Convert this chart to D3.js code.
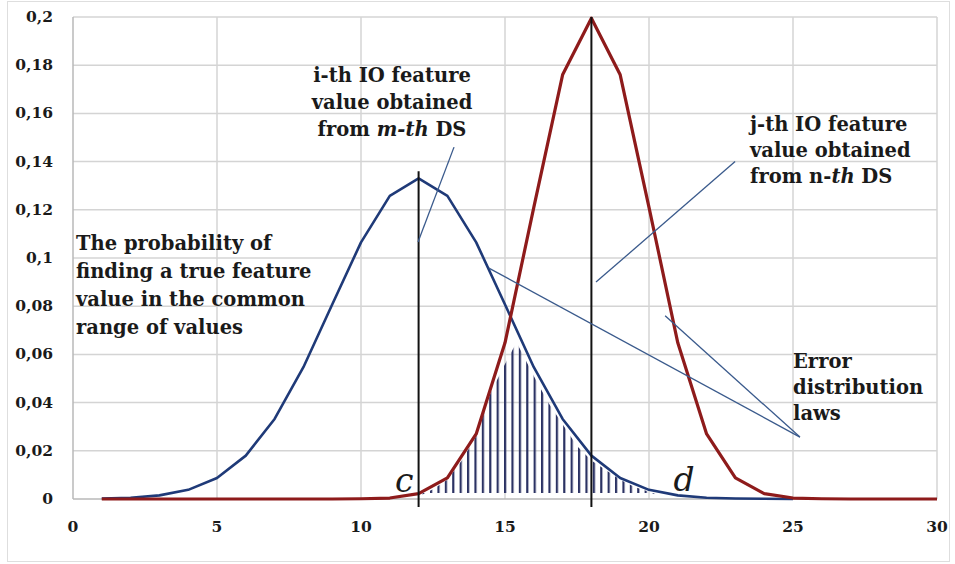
<!DOCTYPE html>
<html>
<head>
<meta charset="utf-8">
<script src="https://cdn.jsdelivr.net/npm/d3@7"></script>
<style>
  body { margin: 0; background: #fff; }
  svg text { font-family: "DejaVu Serif", "Liberation Serif", serif; fill: #1a1a1a; }
</style>
</head>
<body>
<svg width="955" height="564"></svg>
<script>
// values
const blueX = [1, 2, 3, 4, 5, 6, 7, 8, 9, 10, 11, 12, 13, 14, 15, 16, 17, 18, 19, 20, 21, 22, 23, 24, 25];
const blueY = [0.0002, 0.0005, 0.0015, 0.0038, 0.0087, 0.018, 0.0332, 0.0547, 0.0807, 0.1065, 0.1258, 0.133,
  0.1258, 0.1065, 0.0807, 0.0547, 0.0332, 0.018, 0.0087, 0.0038, 0.0015, 0.0005, 0.0002, 0.0001, 0];

const redX = [1, 2, 3, 4, 5, 6, 7, 8, 9, 10, 11, 12, 13, 14, 15, 16, 17, 18, 19, 20, 21, 22, 23, 24, 25, 26, 27, 28, 29, 30];
const redY = [0, 0, 0, 0, 0, 0, 0, 0, 0, 0.0001, 0.0004, 0.0022, 0.0088, 0.027, 0.0648, 0.121, 0.176, 0.1995,
  0.176, 0.121, 0.0648, 0.027, 0.0088, 0.0022, 0.0004, 0.0001, 0, 0, 0, 0];

// hatched common range (between c and d)
const overlapX = [12, 12.5, 13, 13.5, 14, 14.5, 15, 15.4, 16, 16.5, 17, 17.5, 18, 18.5, 19, 19.5, 20, 20.2];
const overlapY = [0.001, 0.004, 0.008, 0.016, 0.026, 0.044, 0.056, 0.065, 0.051, 0.040, 0.031, 0.022, 0.016, 0.012, 0.008, 0.005, 0.003, 0.002];

const xTicks = [0, 5, 10, 15, 20, 25, 30];
const yTicks = [0, 0.02, 0.04, 0.06, 0.08, 0.1, 0.12, 0.14, 0.16, 0.18, 0.2];
const yTickLabels = ["0", "0,02", "0,04", "0,06", "0,08", "0,1", "0,12", "0,14", "0,16", "0,18", "0,2"];

// vertical markers (feature values) and their heights
const markers = [{x: 12, top: 0.136}, {x: 18, top: 0.2}];

// leader lines in data units
const leaders = [
  [[11.98, 0.1066], [13.23, 0.146]],
  [[18.16, 0.090], [22.99, 0.140]],
  [[14.44, 0.0958], [25.24, 0.0257]],
  [[20.56, 0.076], [25.24, 0.0257]]
];

const svg = d3.select("svg");
const margin = {left: 73, right: 18, top: 17, bottom: 65};
const W = 955, H = 564;

const x = d3.scaleLinear().domain([0, 30]).range([margin.left, W - margin.right]);
const y = d3.scaleLinear().domain([0, 0.2]).range([H - margin.bottom, margin.top]);

// outer frame
svg.append("rect")
  .attr("x", 7.5).attr("y", 1.5)
  .attr("width", 942).attr("height", 560)
  .attr("fill", "#fff").attr("stroke", "#dedede");

const defs = svg.append("defs");
const pat = defs.append("pattern")
  .attr("id", "hatch")
  .attr("patternUnits", "userSpaceOnUse")
  .attr("x", x(12) + 4).attr("y", 0)
  .attr("width", 7.4).attr("height", 10);
pat.append("rect").attr("x", 0).attr("y", 0).attr("width", 2.2).attr("height", 10).attr("fill", "#2b3263");

// grid
svg.append("g").selectAll("line")
  .data(yTicks.slice(1))
  .join("line")
  .attr("x1", x(0)).attr("x2", x(30))
  .attr("y1", d => y(d)).attr("y2", d => y(d))
  .attr("stroke", "#d4d4d4").attr("stroke-width", 1.5);

svg.append("g").selectAll("line")
  .data(xTicks.slice(1))
  .join("line")
  .attr("x1", d => x(d)).attr("x2", d => x(d))
  .attr("y1", y(0)).attr("y2", y(0.2))
  .attr("stroke", "#d4d4d4").attr("stroke-width", 1.5);

// axes lines
svg.append("line")
  .attr("x1", x(0)).attr("x2", x(0)).attr("y1", y(0)).attr("y2", y(0.2))
  .attr("stroke", "#b8b8b8").attr("stroke-width", 1.5);
svg.append("line")
  .attr("x1", x(0)).attr("x2", x(30)).attr("y1", y(0)).attr("y2", y(0))
  .attr("stroke", "#b8b8b8").attr("stroke-width", 1.5);

// tick labels
svg.append("g").selectAll("text")
  .data(yTicks)
  .join("text")
  .attr("x", 53).attr("y", d => y(d) + 5)
  .attr("text-anchor", "end")
  .attr("font-size", 15.5).attr("font-weight", "bold")
  .text((d, i) => yTickLabels[i]);

svg.append("g").selectAll("text")
  .data(xTicks)
  .join("text")
  .attr("x", d => x(d)).attr("y", 532)
  .attr("text-anchor", "middle")
  .attr("font-size", 15.5).attr("font-weight", "bold")
  .text(d => d);

// hatched area
const area = d3.area()
  .x((d, i) => x(overlapX[i]))
  .y0(y(0.0025))
  .y1((d, i) => y(d));
svg.append("path")
  .datum(overlapY)
  .attr("d", area)
  .attr("fill", "url(#hatch)");

// curves
const line = d3.line().x(d => x(d[0])).y(d => y(d[1]));
svg.append("path")
  .datum(blueX.map((v, i) => [v, blueY[i]]))
  .attr("d", line)
  .attr("fill", "none").attr("stroke", "#1f3a78").attr("stroke-width", 2.6)
  .attr("stroke-linejoin", "round");
svg.append("path")
  .datum(redX.map((v, i) => [v, redY[i]]))
  .attr("d", line)
  .attr("fill", "none").attr("stroke", "#8e1b1b").attr("stroke-width", 3.2)
  .attr("stroke-linejoin", "round");

// markers
svg.append("g").selectAll("line")
  .data(markers)
  .join("line")
  .attr("x1", d => x(d.x)).attr("x2", d => x(d.x))
  .attr("y1", y(0) + 8).attr("y2", d => y(d.top))
  .attr("stroke", "#111").attr("stroke-width", 2);

svg.append("text")
  .attr("x", x(12) - 5).attr("y", 492)
  .attr("text-anchor", "end")
  .attr("font-size", 33).attr("font-style", "italic")
  .text("c");
svg.append("text")
  .attr("x", 684).attr("y", 491)
  .attr("text-anchor", "middle")
  .attr("font-size", 33).attr("font-style", "italic")
  .text("d");

// leaders
svg.append("g").selectAll("line")
  .data(leaders)
  .join("line")
  .attr("x1", d => x(d[0][0])).attr("y1", d => y(d[0][1]))
  .attr("x2", d => x(d[1][0])).attr("y2", d => y(d[1][1]))
  .attr("stroke", "#3a5a8c").attr("stroke-width", 1.3);

// annotation text
function block(lines, px, py, anchor, lh) {
  const t = svg.append("text")
    .attr("font-size", 19.5).attr("font-weight", "bold")
    .attr("text-anchor", anchor);
  lines.forEach((l, i) => {
    const ts = t.append("tspan").attr("x", px).attr("y", py + i * lh);
    l.forEach(part => {
      ts.append("tspan")
        .attr("font-style", part.it ? "italic" : null)
        .text(part.t);
    });
  });
}

block([[{t: "i-th IO feature"}], [{t: "value obtained"}], [{t: "from "}, {t: "m-th", it: true}, {t: " DS"}]],
  392, 82, "middle", 27);
block([[{t: "j-th IO feature"}], [{t: "value obtained"}], [{t: "from n-"}, {t: "th", it: true}, {t: " DS"}]],
  750, 131, "start", 26);
block([[{t: "The probability of"}], [{t: "finding a true feature"}], [{t: "value in the common"}], [{t: "range of values"}]],
  76, 250, "start", 28);
block([[{t: "Error"}], [{t: "distribution"}], [{t: "laws"}]],
  793, 368, "start", 26);
</script>
</body>
</html>
